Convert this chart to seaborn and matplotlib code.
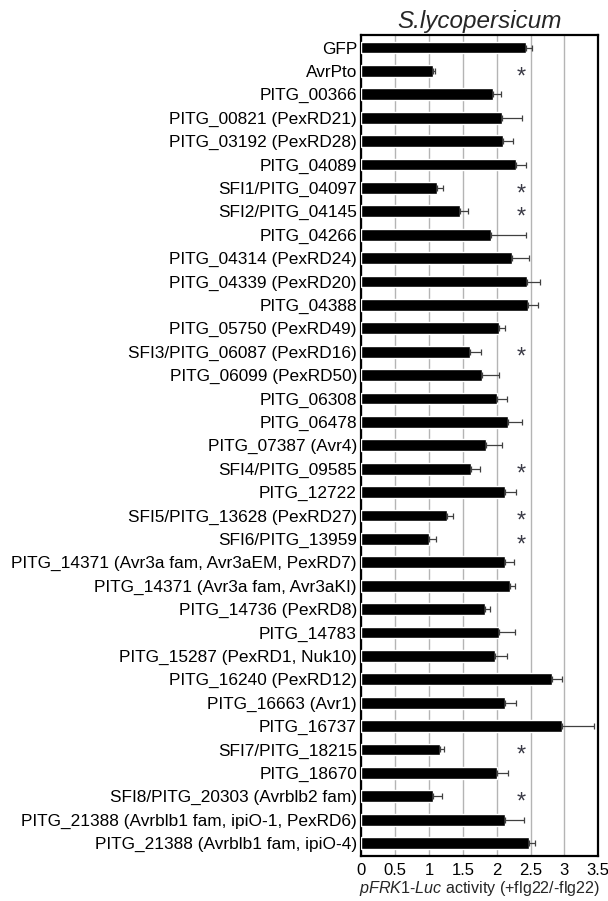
import matplotlib
matplotlib.use("Agg")
import matplotlib.pyplot as plt
import matplotlib.transforms as mtransforms
import numpy as np
import pandas as pd
import seaborn as sns

effectors = [
    "GFP", "AvrPto", "PITG_00366", "PITG_00821 (PexRD21)", "PITG_03192 (PexRD28)",
    "PITG_04089", "SFI1/PITG_04097", "SFI2/PITG_04145", "PITG_04266",
    "PITG_04314 (PexRD24)", "PITG_04339 (PexRD20)", "PITG_04388",
    "PITG_05750 (PexRD49)", "SFI3/PITG_06087 (PexRD16)", "PITG_06099 (PexRD50)",
    "PITG_06308", "PITG_06478", "PITG_07387 (Avr4)", "SFI4/PITG_09585",
    "PITG_12722", "SFI5/PITG_13628 (PexRD27)", "SFI6/PITG_13959",
    "PITG_14371 (Avr3a fam, Avr3aEM, PexRD7)", "PITG_14371 (Avr3a fam, Avr3aKI)",
    "PITG_14736 (PexRD8)", "PITG_14783", "PITG_15287 (PexRD1, Nuk10)",
    "PITG_16240 (PexRD12)", "PITG_16663 (Avr1)", "PITG_16737", "SFI7/PITG_18215",
    "PITG_18670", "SFI8/PITG_20303 (Avrblb2 fam)",
    "PITG_21388 (Avrblb1 fam, ipiO-1, PexRD6)", "PITG_21388 (Avrblb1 fam, ipiO-4)",
]

activity = [
    2.43, 1.06, 1.94, 2.08, 2.09,
    2.28, 1.12, 1.46, 1.92,
    2.22, 2.45, 2.47,
    2.03, 1.61, 1.78,
    2.01, 2.17, 1.85, 1.62,
    2.13, 1.26, 1.00,
    2.13, 2.19,
    1.83, 2.03, 1.98,
    2.82, 2.13, 2.96, 1.16,
    2.01, 1.06,
    2.13, 2.48,
]

sem = [
    0.09, 0.03, 0.13, 0.30, 0.15,
    0.15, 0.09, 0.12, 0.51,
    0.26, 0.19, 0.14,
    0.10, 0.16, 0.25,
    0.15, 0.21, 0.23, 0.13,
    0.15, 0.10, 0.11,
    0.12, 0.08,
    0.07, 0.24, 0.18,
    0.14, 0.15, 0.47, 0.07,
    0.16, 0.14,
    0.28, 0.09,
]

significant = [
    "AvrPto", "SFI1/PITG_04097", "SFI2/PITG_04145", "SFI3/PITG_06087 (PexRD16)",
    "SFI4/PITG_09585", "SFI5/PITG_13628 (PexRD27)", "SFI6/PITG_13959",
    "SFI7/PITG_18215", "SFI8/PITG_20303 (Avrblb2 fam)",
]
star_x = 2.37

x_ticks = [0, 0.5, 1, 1.5, 2, 2.5, 3, 3.5]
x_tick_labels = ["0", "0.5", "1", "1.5", "2", "2.5", "3", "3.5"]

df = pd.DataFrame({"effector": effectors, "activity": activity, "sem": sem})

sns.set_style("white")
plt.rcParams["font.family"] = ["Liberation Sans", "DejaVu Sans"]
plt.rcParams["mathtext.fontset"] = "custom"
plt.rcParams["mathtext.rm"] = "Liberation Sans"
plt.rcParams["mathtext.it"] = "Liberation Sans:italic"

fig = plt.figure(figsize=(6.08, 9.01), dpi=100)
ax = fig.add_axes([0.594, 0.050, 0.390, 0.911])

sns.barplot(data=df, x="activity", y="effector", orient="h", color="black",
            saturation=1, width=0.5, errorbar=None, ax=ax, zorder=3)

ypos = np.arange(len(effectors))
ax.errorbar(df["activity"], ypos, xerr=[np.zeros(len(sem)), df["sem"]],
            fmt="none", ecolor="#404040", elinewidth=0.9, capsize=2.2,
            capthick=0.9, zorder=4)

# significance marks
offset = mtransforms.offset_copy(ax.transData, fig=fig, x=0, y=-4.5, units="points")
for name in significant:
    ax.text(star_x, effectors.index(name), "*", transform=offset,
            ha="center", va="center", fontsize=17, color="#3a3a46", zorder=5)

ax.set_xlim(0, 3.5)
ax.set_ylim(len(effectors) - 0.45, -0.53)
ax.set_xticks(x_ticks)
ax.set_xticklabels(x_tick_labels)
ax.xaxis.grid(True, color="#b4b4b4", linewidth=1.0, zorder=0)
ax.yaxis.grid(False)
ax.set_axisbelow(True)
ax.tick_params(axis="y", length=0, labelsize=12.4, colors="black", pad=3)
ax.tick_params(axis="x", length=0, labelsize=12, colors="black", pad=5)
for side in ["left", "right", "top", "bottom"]:
    ax.spines[side].set_visible(True)
    ax.spines[side].set_color("black")
    ax.spines[side].set_linewidth(1.6)

ax.set_ylabel("")
ax.set_xlabel(r"$\mathit{pFRK1}$-$\mathit{Luc}$ activity (+flg22/-flg22)",
              fontsize=11.6, labelpad=1)
ax.set_title("S.lycopersicum", fontsize=17.5, style="italic", pad=5)

fig.savefig("out.png", dpi=100, facecolor="white")
